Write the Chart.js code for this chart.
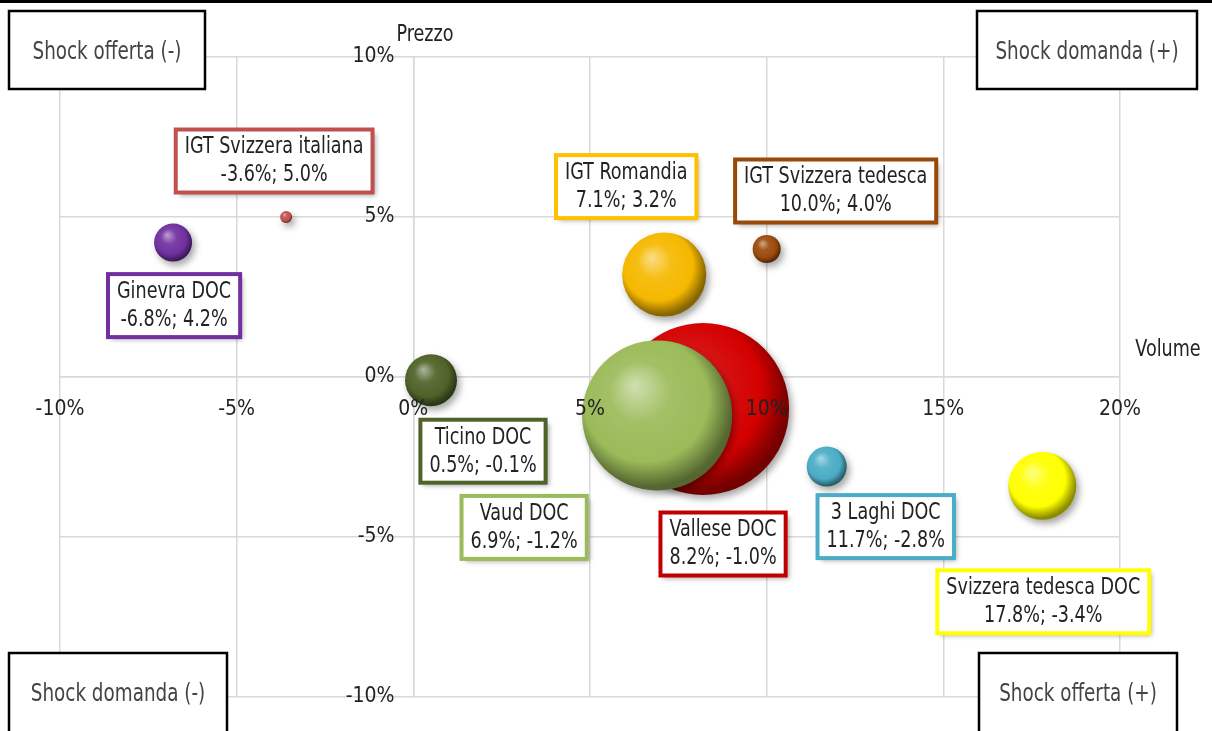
<!DOCTYPE html>
<html>
<head>
<meta charset="utf-8">
<script src="https://cdn.jsdelivr.net/npm/chart.js@4"></script>
<style>
  body { margin: 0; background: #fff; }
  #wrap { width: 1212px; height: 731px; position: relative; }
</style>
</head>
<body>
<div id="wrap"><canvas id="bubbleChart"></canvas></div>
<script>
// DATA
var wines = ['IGT Svizzera italiana', 'Ginevra DOC', 'IGT Romandia', 'IGT Svizzera tedesca',
  'Ticino DOC', 'Vallese DOC', 'Vaud DOC', '3 Laghi DOC', 'Svizzera tedesca DOC'];
var volumeChange = [-3.6, -6.8, 7.1, 10.0, 0.5, 8.2, 6.9, 11.7, 17.8];
var priceChange = [5.0, 4.2, 3.2, 4.0, -0.1, -1.0, -1.2, -2.8, -3.4];
var bubbleSize = [6, 19, 42, 14, 26, 86, 75, 20, 34];
var xTicks = [-10, -5, 0, 5, 10, 15, 20];
var yTicks = [-10, -5, 0, 5, 10];

// styles
var wineColors = ['#c0504d', '#7030a0', '#f5b800', '#9c4a0c', '#4f6228', '#d40000', '#9bbb59', '#4bacc6', '#ffff00'];
var borderColors = ['#c0504d', '#7030a0', '#ffc000', '#984807', '#4f6228', '#c00000', '#9bbb59', '#4bacc6', '#ffff00'];
// label box centre, relative to the bubble centre
var labelOffsets = [[-12, -56], [1, 63], [-38, -88], [69, -58], [52, 71], [20, 135], [-133, 112], [59, 60], [1, 116]];
var FONT = '"DejaVu Sans Condensed", "Liberation Sans Narrow", sans-serif';

function mix(hex, target, t) {
  var n = parseInt(hex.slice(1), 16);
  var r = (n >> 16) & 255, g = (n >> 8) & 255, b = n & 255;
  r = Math.round(r + (target - r) * t);
  g = Math.round(g + (target - g) * t);
  b = Math.round(b + (target - b) * t);
  return 'rgb(' + r + ',' + g + ',' + b + ')';
}

function bubbleFill(ctx) {
  var i = ctx.dataIndex;
  var chart = ctx.chart;
  if (ctx.type !== 'data' || !chart.chartArea) return wineColors[i] || '#999';
  var cx = chart.scales.x.getPixelForValue(volumeChange[i]);
  var cy = chart.scales.y.getPixelForValue(priceChange[i]);
  var r = bubbleSize[i];
  var g = chart.ctx.createRadialGradient(cx - r * 0.3, cy - r * 0.4, r * 0.03, cx - r * 0.1, cy - r * 0.15, r * 1.1);
  g.addColorStop(0, mix(wineColors[i], 255, 0.5));
  g.addColorStop(0.35, mix(wineColors[i], 255, 0.08));
  g.addColorStop(0.75, wineColors[i]);
  g.addColorStop(1, mix(wineColors[i], 0, 0.45));
  return g;
}

// text squeezed horizontally, to look like the narrow font of the original
function narrowText(c, text, x, y, size) {
  c.save();
  c.translate(x, y);
  c.scale(0.85, 1);
  c.font = size + 'px ' + FONT;
  c.fillText(text, 0, 0);
  c.restore();
}

var bubbleShadow = {
  id: 'bubbleShadow',
  beforeDatasetsDraw: function (chart) {
    var c = chart.ctx;
    c.save();
    c.shadowColor = 'rgba(0,0,0,0.35)';
    c.shadowBlur = 7;
    c.shadowOffsetX = 3;
    c.shadowOffsetY = 4;
  },
  afterDatasetsDraw: function (chart) {
    chart.ctx.restore();
  }
};

var decorations = {
  id: 'decorations',
  beforeDraw: function (chart) {
    var c = chart.ctx;
    c.save();
    c.fillStyle = '#000';
    c.fillRect(0, 0, chart.width, 3);
    c.restore();
  },
  afterDraw: function (chart) {
    var c = chart.ctx;
    var xs = chart.scales.x, ys = chart.scales.y;
    c.save();

    // point labels
    c.textAlign = 'center';
    c.textBaseline = 'middle';
    for (var i = 0; i < wines.length; i++) {
      var px = xs.getPixelForValue(volumeChange[i]);
      var py = ys.getPixelForValue(priceChange[i]);
      var line2 = volumeChange[i].toFixed(1) + '%; ' + priceChange[i].toFixed(1) + '%';
      c.font = '23px ' + FONT;
      var w = Math.max(c.measureText(wines[i]).width, c.measureText(line2).width) * 0.85 + 18;
      var h = 63;
      var bx = px + labelOffsets[i][0] - w / 2;
      var by = py + labelOffsets[i][1] - h / 2;
      c.save();
      c.shadowColor = 'rgba(0,0,0,0.35)';
      c.shadowBlur = 5;
      c.shadowOffsetX = 3;
      c.shadowOffsetY = 3;
      c.fillStyle = '#fff';
      c.fillRect(bx, by, w, h);
      c.restore();
      c.lineWidth = 4;
      c.strokeStyle = borderColors[i];
      c.strokeRect(bx, by, w, h);
      c.fillStyle = '#222';
      narrowText(c, wines[i], bx + w / 2, by + 18, 23);
      narrowText(c, line2, bx + w / 2, by + 46, 23);
    }

    // axis titles
    c.fillStyle = '#222';
    narrowText(c, 'Prezzo', 425, 35, 23);
    narrowText(c, 'Volume', 1168, 350, 23);

    // quadrant boxes
    var boxes = [
      ['Shock offerta (-)', 9, 11, 196, 78],
      ['Shock domanda (+)', 977, 11, 220, 78],
      ['Shock domanda (-)', 9, 653, 218, 90],
      ['Shock offerta (+)', 979, 653, 198, 90]
    ];
    boxes.forEach(function (b) {
      c.fillStyle = '#fff';
      c.fillRect(b[1], b[2], b[3], b[4]);
      c.lineWidth = 2.5;
      c.strokeStyle = '#000';
      c.strokeRect(b[1], b[2], b[3], b[4]);
      c.fillStyle = '#444';
      narrowText(c, b[0], b[1] + b[3] / 2, b[2] + 42, 24);
    });
    c.restore();
  }
};

var ctx1 = document.getElementById('bubbleChart').getContext('2d');
var bubbleChart = new Chart(ctx1, {
  type: 'bubble',
  data: {
    datasets: [{
      data: wines.map(function (w, i) {
        return { x: volumeChange[i], y: priceChange[i], r: bubbleSize[i] };
      }),
      backgroundColor: bubbleFill,
      borderWidth: 0,
      hoverRadius: 0,
      clip: false
    }]
  },
  options: {
    responsive: true,
    maintainAspectRatio: false,
    animation: false,
    layout: { autoPadding: false, padding: { left: 60, top: 57, right: 92, bottom: 34 } },
    plugins: { legend: { display: false }, tooltip: { enabled: false } },
    scales: {
      x: {
        type: 'linear',
        position: { y: 0 },
        min: -10, max: 20,
        afterBuildTicks: function (s) { s.ticks = xTicks.map(function (v) { return { value: v }; }); },
        grid: { color: '#d9d9d9', lineWidth: 1.5, drawTicks: false },
        border: { color: '#d9d9d9', width: 1.5 },
        ticks: {
          z: 1,
          padding: 20,
          color: '#222',
          font: { family: FONT, size: 21 },
          maxRotation: 0,
          callback: function (v) { return v + '%'; }
        }
      },
      y: {
        type: 'linear',
        position: { x: 0 },
        min: -10, max: 10,
        afterBuildTicks: function (s) { s.ticks = yTicks.map(function (v) { return { value: v }; }); },
        grid: { color: '#d9d9d9', lineWidth: 1.5, drawTicks: false },
        border: { color: '#d9d9d9', width: 1.5 },
        ticks: {
          z: 1,
          color: '#222',
          font: { family: FONT, size: 21 },
          // a centred y axis ignores ticks.padding, so keep the gap with two en spaces
          callback: function (v) { return v + '%\u2002\u2002'; }
        }
      }
    }
  },
  plugins: [bubbleShadow, decorations]
});
</script>
</body>
</html>
